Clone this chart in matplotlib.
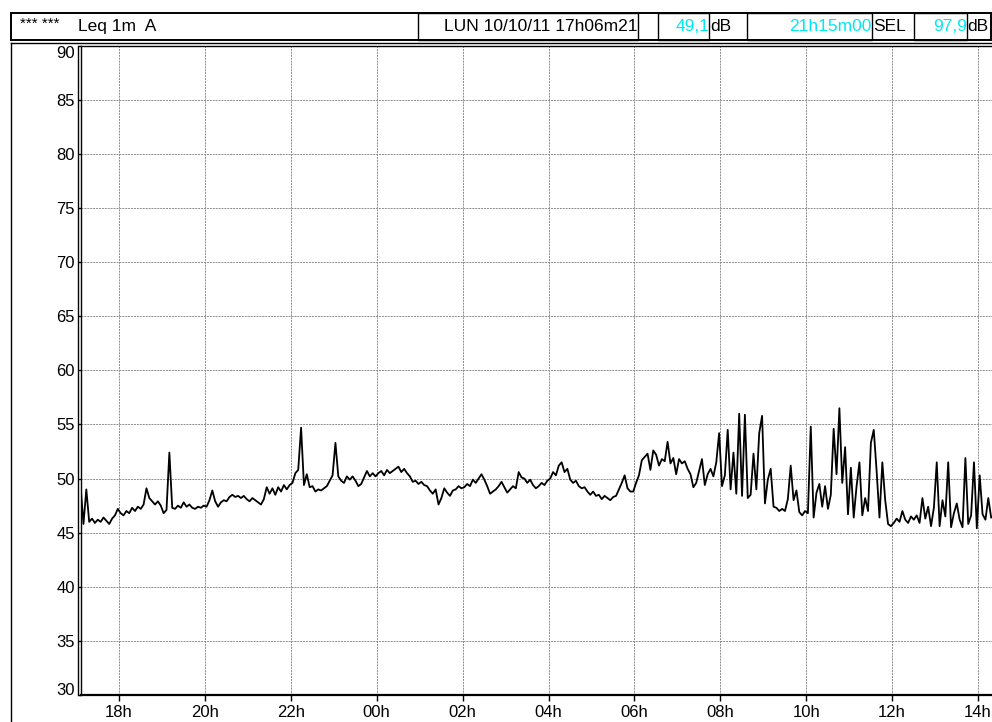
import matplotlib
matplotlib.use("Agg")
import matplotlib.pyplot as plt
from matplotlib.patches import Rectangle
from matplotlib.lines import Line2D

plt.rcParams['font.family'] = ['Liberation Sans', 'DejaVu Sans']

# ---------------- data ----------------
start_hour = 17 + 6 / 60 + 21 / 3600      # LUN 10/10/11 17h06m21
duration_hours = 21 + 15 / 60             # 21h15m00
step_minutes = 4

leq_db = [
    # 17h06 - 18h
    49.3, 45.8, 49.0, 46.0, 46.3, 45.9, 46.2, 46.0, 46.4, 46.1, 45.8, 46.3, 46.6, 47.2,
    # 18h - 20h
    46.8, 46.6, 47.0, 46.8, 47.3, 47.0, 47.4, 47.2, 47.6, 49.1, 48.2, 47.9, 47.6, 47.9, 47.5,
    46.8, 47.1, 52.4, 47.3, 47.2, 47.5, 47.3, 47.8, 47.4, 47.6, 47.3, 47.2, 47.4, 47.3, 47.5,
    # 20h - 22h
    47.4, 48.0, 48.9, 47.9, 47.4, 47.8, 48.0, 47.9, 48.3, 48.5, 48.3, 48.4, 48.2, 48.4, 48.1,
    47.9, 48.2, 48.0, 47.8, 47.6, 48.1, 49.2, 48.6, 49.1, 48.5, 49.2, 48.8, 49.4, 49.0, 49.4,
    # 22h - 00h
    49.6, 50.5, 50.8, 54.7, 49.4, 50.4, 49.2, 49.3, 48.8, 49.0, 48.9, 49.1, 49.3, 49.8, 50.3,
    53.3, 50.2, 49.8, 49.6, 50.2, 49.9, 50.2, 49.8, 49.3, 49.5, 50.1, 50.7, 50.2, 50.5, 50.2,
    # 00h - 02h
    50.5, 50.7, 50.3, 50.8, 50.5, 50.7, 50.9, 51.1, 50.6, 50.9, 50.5, 50.2, 49.7, 49.8, 49.5,
    49.7, 49.4, 49.3, 48.9, 48.6, 49.0, 47.6, 48.2, 49.1, 48.7, 48.4, 48.9, 49.0, 49.3, 49.1,
    # 02h - 04h
    49.2, 49.5, 49.3, 49.9, 49.6, 50.0, 50.4, 49.9, 49.3, 48.6, 48.8, 49.0, 49.3, 49.7, 49.2,
    48.7, 49.0, 49.3, 49.1, 50.6, 50.1, 50.0, 49.6, 49.9, 49.4, 49.1, 49.3, 49.6, 49.4, 49.8,
    # 04h - 06h
    50.0, 50.6, 50.3, 51.2, 51.5, 50.6, 50.9, 49.9, 49.6, 49.8, 49.3, 49.1, 49.2, 48.8, 48.5,
    48.8, 48.4, 48.5, 48.1, 48.4, 48.2, 48.0, 48.3, 48.4, 49.0, 49.6, 50.3, 49.1, 48.8, 48.8,
    # 06h - 08h
    49.6, 50.3, 51.7, 52.0, 52.3, 50.8, 52.6, 52.2, 51.2, 51.8, 51.6, 53.4, 51.4, 51.9, 50.4,
    51.8, 51.4, 51.6, 50.9, 50.4, 49.2, 49.6, 50.7, 51.8, 49.4, 50.4, 50.9, 50.2, 51.5, 54.2,
    # 08h - 10h
    49.3, 50.3, 54.5, 49.0, 52.4, 48.6, 56.0, 48.4, 55.9, 48.2, 48.5, 52.3, 49.0, 54.2, 55.8,
    47.7, 49.9, 50.9, 47.4, 47.3, 47.0, 47.2, 47.0, 48.1, 51.2, 48.0, 48.9, 46.9, 46.6, 47.0,
    # 10h - 12h
    46.8, 54.8, 46.4, 48.7, 49.5, 47.4, 49.3, 47.2, 48.5, 54.6, 50.4, 56.5, 49.6, 52.9, 46.7,
    51.0, 46.4, 49.3, 51.5, 46.6, 48.2, 47.0, 53.3, 54.5, 50.7, 46.4, 51.5, 48.0, 45.8, 45.6,
    # 12h - 14h
    45.9, 46.3, 46.0, 47.0, 46.2, 45.9, 46.5, 46.2, 46.6, 45.9, 48.2, 46.3, 47.4, 45.6, 47.3,
    51.5, 45.6, 48.0, 46.5, 51.5, 45.5, 46.8, 47.7, 46.2, 45.5, 51.9, 45.8, 46.6, 51.5, 45.4,
    # 14h - 14h21
    50.3, 46.7, 46.2, 48.2, 46.4,
]

y_ticks = [30, 35, 40, 45, 50, 55, 60, 65, 70, 75, 80, 85, 90]
x_tick_hours = [18, 20, 22, 24, 26, 28, 30, 32, 34, 36, 38]
x_tick_labels = ["18h", "20h", "22h", "00h", "02h", "04h", "06h", "08h", "10h", "12h", "14h"]

header_stars = "*** ***"
header_title = "Leq 1m  A"
header_date = "LUN 10/10/11 17h06m21"
leq_value = "49,1"
duration_text = "21h15m00"
sel_value = "97,9"

# ---------------- figure ----------------
W, H = 992, 722
fig = plt.figure(figsize=(W / 100, H / 100), dpi=100)
fig.patch.set_facecolor('white')


def fx(px):
    return px / W


def fy(py):
    return 1 - py / H


ax_left, ax_right, ax_top, ax_bottom = 80.6, 993.3, 45.7, 695.0
ax = fig.add_axes([fx(ax_left), fy(ax_bottom), (ax_right - ax_left) / W, (ax_bottom - ax_top) / H])

times = [start_hour + i * step_minutes / 60 for i in range(len(leq_db))]
ax.plot(times, leq_db, color='black', lw=1.3, zorder=3)

ax.set_xlim(start_hour, start_hour + duration_hours)
ax.set_ylim(30, 90)
ax.set_xticks(x_tick_hours)
ax.set_xticklabels(x_tick_labels)
ax.set_yticks(y_ticks)
ax.set_yticklabels([str(v) for v in y_ticks])

ax.grid(True, color='#8c8c8c', lw=0.7, ls=(0, (2, 1)), zorder=1)
ax.tick_params(axis='x', direction='out', length=4, width=1, labelsize=12, pad=3.5, colors='black')
ax.tick_params(axis='y', direction='out', length=2, width=1, labelsize=12, pad=2, colors='black')

for lab in ax.get_yticklabels():
    if lab.get_text() == "90":
        lab.set_va('top')
    if lab.get_text() == "30":
        lab.set_va('baseline')

ax.spines['bottom'].set_linewidth(1.6)
ax.spines['left'].set_linewidth(1.0)
ax.spines['top'].set_linewidth(1.0)
ax.spines['right'].set_linewidth(1.0)

# second line of the double frame (left and top) and outer frame
fig.add_artist(Line2D([fx(78.3), fx(78.3)], [fy(ax_top), fy(ax_bottom)], color='black', lw=1.0,
                      transform=fig.transFigure))
fig.add_artist(Line2D([fx(10.7), fx(992)], [fy(43.0), fy(43.0)], color='black', lw=1.0,
                      transform=fig.transFigure))
fig.add_artist(Line2D([fx(10.7), fx(10.7)], [fy(43.0), fy(722)], color='black', lw=1.0,
                      transform=fig.transFigure))

# ---------------- header ----------------
hdr_top, hdr_bot = 12.5, 39.5
fig.add_artist(Rectangle((fx(10.7), fy(hdr_bot)), (991.3 - 10.7) / W, (hdr_bot - hdr_top) / H,
                         fill=False, ec='black', lw=1.4, transform=fig.transFigure))

boxes = [(418, 638.3), (657.7, 709.3), (747.3, 871.7), (914.3, 966.7)]
for x0, x1 in boxes:
    fig.add_artist(Rectangle((fx(x0), fy(hdr_bot)), (x1 - x0) / W, (hdr_bot - hdr_top) / H,
                             fill=False, ec='black', lw=1.0, transform=fig.transFigure))

ty = fy(26.5)
fs = 12.5
cyan = '#00E8F0'
fig.text(fx(20), fy(24.5), header_stars, fontsize=11, va='center', ha='left')
fig.text(fx(78), ty, header_title, fontsize=fs, va='center', ha='left')
fig.text(fx(637), ty, header_date, fontsize=fs, va='center', ha='right')
fig.text(fx(709), ty, leq_value, fontsize=fs, va='center', ha='right', color=cyan)
fig.text(fx(710), ty, "dB", fontsize=fs, va='center', ha='left')
fig.text(fx(871.5), ty, duration_text, fontsize=fs, va='center', ha='right', color=cyan)
fig.text(fx(873), ty, "SEL", fontsize=fs, va='center', ha='left')
fig.text(fx(966.5), ty, sel_value, fontsize=fs, va='center', ha='right', color=cyan)
fig.text(fx(967), ty, "dB", fontsize=fs, va='center', ha='left')

fig.savefig("out.png", dpi=100, facecolor='white')
